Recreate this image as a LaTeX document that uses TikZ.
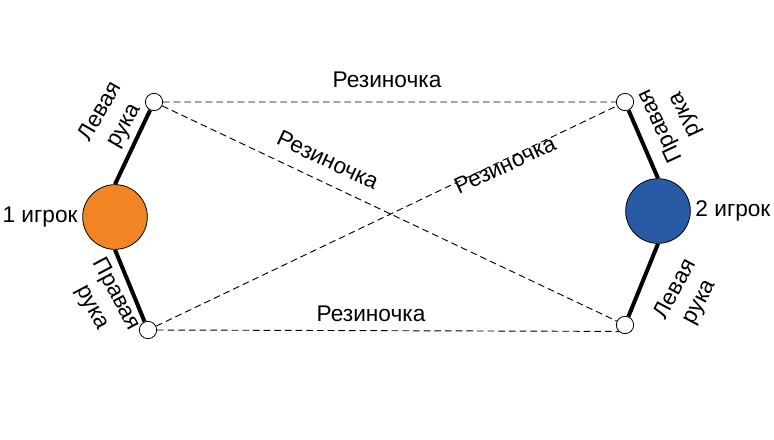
\documentclass[tikz,border=0pt]{standalone}
\usepackage{fontspec}
\setmainfont{Liberation Sans}
\usetikzlibrary{positioning}
\definecolor{playerA}{RGB}{242,133,35}
\definecolor{playerB}{RGB}{41,90,166}
\begin{document}
\begin{tikzpicture}[x=0.75pt, y=0.75pt, font=\fontsize{17}{20.5}\selectfont,
      player/.style={circle, draw, line width=0.6pt, minimum size=48.5pt, inner sep=0pt},
      hand/.style={circle, draw, fill=white, line width=0.6pt, minimum size=13pt, inner sep=0pt},
      arm/.style={line width=3pt},
      band/.style={line width=0.7pt, dash pattern=on 5pt off 3pt}]
      \useasboundingbox (0,0) rectangle (774,439);
      \node (c1) [player, fill=playerA] at (115,222) {};
      \node (c2) [player, fill=playerB] at (658,228) {};
      \node (tl) [hand] at (154,337) {};
      \node (bl) [hand] at (148,109) {};
      \node (tr) [hand] at (625,337) {};
      \node (br) [hand] at (625,114) {};
      \node (p1) [left=0pt of c1] {1 игрок};
      \node (p2) [right=0pt of c2] {2 игрок};
      \draw[arm] (c1.north) -- (tl)
                 (c1.south) -- (bl)
                 (c2.north) -- (tr)
                 (c2.south) -- (br);
      \draw[band] (tl) -- (tr)
                  (bl.east) -- (br.south west)
                  (tl) -- (br)
                  (bl) -- (tr);
      \node (l1) [rotate=60, align=center] at (113,320) {Левая\\рука};
      \node (r1) [rotate=-62, align=center] at (104,138) {Правая\\рука};
      \node (r2) [rotate=115, align=center] at (673,319) {Правая\\рука};
      \node (l2) [rotate=62, align=center] at (688,143) {Левая\\рука};
      \node (b1) at (387,359) {Резиночка};
      \node (b2) at (371,125) {Резиночка};
      \node (b3) [rotate=-25] at (328,279) {Резиночка};
      \node (b4) [rotate=25] at (505,274) {Резиночка};
\end{tikzpicture}
\end{document}
